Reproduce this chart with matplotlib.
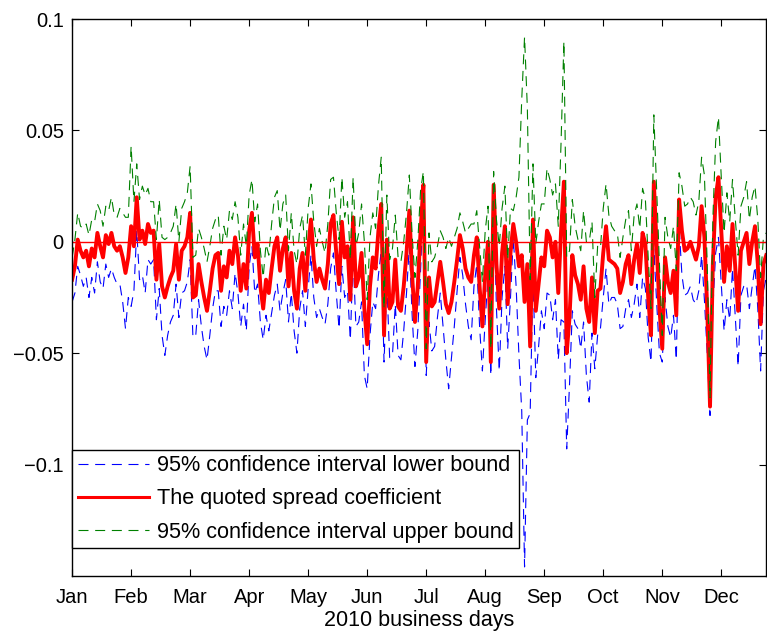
import numpy as np
import matplotlib
matplotlib.use('Agg')
import matplotlib.pyplot as plt

plt.rcParams['font.family'] = ['Liberation Sans', 'DejaVu Sans']

# ------------------------------
# 1. Data (one value per business day)
# ------------------------------
months = ['Jan', 'Feb', 'Mar', 'Apr', 'May', 'Jun',
          'Jul', 'Aug', 'Sep', 'Oct', 'Nov', 'Dec']
month_start_day = [1, 22, 43, 64, 85, 106, 127, 148, 169, 190, 211, 232]

# quoted spread coefficient
coef = [
    # Jan
    -0.017, -0.011, 0.001, -0.004, -0.007, -0.004, -0.011, -0.003, -0.007, 0.004,
    -0.002, -0.007, 0.003, -0.001, 0.004, -0.002, -0.004, -0.002, -0.007, -0.014, -0.007,
    # Feb
    0.007, -0.002, 0.020, 0.001, 0.005, -0.001, 0.008, 0.004, 0.005, -0.017,
    -0.001, -0.020, -0.025, -0.020, -0.016, -0.013, -0.001, -0.017, -0.004, -0.002, 0.002,
    # Mar
    0.013, -0.025, -0.024, -0.010, -0.018, -0.025, -0.031, -0.022, -0.012, -0.006,
    -0.005, -0.022, -0.011, -0.016, -0.004, -0.010, 0.002, -0.006, -0.022, -0.010, -0.021,
    # Apr
    0.005, 0.013, -0.007, -0.001, -0.020, -0.030, -0.017, -0.023, -0.012, -0.002,
    0.002, -0.013, -0.003, 0.002, -0.020, -0.005, -0.022, -0.030, -0.012, -0.005, -0.022,
    # May
    -0.003, 0.010, -0.008, -0.018, -0.012, -0.017, -0.021, -0.010, 0.008, 0.012,
    -0.005, -0.019, 0.009, -0.007, -0.002, -0.026, 0.011, -0.020, -0.016, -0.005, -0.030,
    # Jun
    -0.046, -0.020, -0.007, -0.012, 0.005, 0.017, -0.042, 0.001, -0.030, -0.027,
    -0.008, -0.029, -0.031, -0.020, -0.005, 0.014, -0.015, -0.036, -0.020, 0.005, 0.0256,
    # Jul
    -0.054, -0.016, -0.029, -0.027, -0.018, -0.009, -0.018, -0.028, -0.032, -0.027,
    -0.018, -0.008, 0.003, -0.003, -0.012, -0.016, -0.018, -0.006, 0.002, -0.020, -0.038,
    # Aug
    -0.015, 0.000, -0.054, 0.0256, -0.010, -0.030, -0.005, 0.007, -0.028, -0.005,
    0.008, 0.000, -0.011, -0.006, -0.027, -0.010, -0.047, 0.010, -0.031, -0.019, -0.007,
    # Sep
    -0.011, 0.005, 0.002, -0.007, 0.000, -0.023, 0.005, 0.027, -0.050, -0.034,
    -0.006, -0.015, -0.019, -0.026, -0.011, -0.030, -0.036, -0.016, -0.041, -0.022, -0.021,
    # Oct
    -0.005, 0.007, -0.008, -0.009, -0.010, -0.012, -0.023, -0.018, -0.010, -0.006,
    -0.019, -0.008, -0.001, -0.014, 0.004, -0.001, -0.025, -0.042, 0.027, -0.002, -0.030,
    # Nov
    -0.048, -0.007, -0.018, -0.023, -0.013, -0.033, 0.019, 0.005, -0.004, -0.003,
    0.000, -0.004, -0.008, -0.002, 0.016, 0.002, -0.030, -0.074, -0.010, 0.020, 0.029,
    # Dec
    0.005, -0.018, -0.002, -0.013, 0.008, -0.012, -0.031, -0.004, 0.000, 0.004,
    -0.010, 0.000, 0.007, -0.010, -0.037, -0.010, -0.006,
]

# half width of the 95% confidence interval
half_width = [
    # Jan
    0.010, 0.012, 0.012, 0.011, 0.013, 0.012, 0.014, 0.013, 0.016, 0.013,
    0.016, 0.014, 0.013, 0.015, 0.016, 0.014, 0.015, 0.017, 0.020, 0.025, 0.018,
    # Feb
    0.036, 0.020, 0.015, 0.018, 0.020, 0.022, 0.016, 0.014, 0.013, 0.018,
    0.020, 0.022, 0.026, 0.022, 0.020, 0.020, 0.018, 0.017, 0.019, 0.020, 0.020,
    # Mar
    0.021, 0.018, 0.018, 0.016, 0.020, 0.022, 0.022, 0.020, 0.018, 0.016,
    0.017, 0.016, 0.018, 0.017, 0.018, 0.020, 0.016, 0.017, 0.016, 0.018, 0.019,
    # Apr
    0.016, 0.015, 0.016, 0.018, 0.016, 0.014, 0.016, 0.017, 0.020, 0.022,
    0.021, 0.018, 0.020, 0.019, 0.016, 0.018, 0.018, 0.020, 0.018, 0.017, 0.016,
    # May
    0.018, 0.016, 0.017, 0.016, 0.018, 0.017, 0.016, 0.018, 0.020, 0.017,
    0.018, 0.020, 0.020, 0.018, 0.020, 0.018, 0.018, 0.018, 0.020, 0.022, 0.030,
    # Jun
    0.020, 0.022, 0.020, 0.018, 0.020, 0.021, 0.012, 0.020, 0.022, 0.024,
    0.020, 0.022, 0.022, 0.020, 0.018, 0.016, 0.018, 0.020, 0.020, 0.018, 0.006,
    # Jul
    0.006, 0.020, 0.020, 0.020, 0.016, 0.014, 0.020, 0.025, 0.034, 0.025,
    0.020, 0.014, 0.010, 0.012, 0.016, 0.022, 0.026, 0.014, 0.012, 0.018, 0.020,
    # Aug
    0.020, 0.016, 0.006, 0.006, 0.020, 0.028, 0.020, 0.018, 0.020, 0.020,
    0.006, 0.020, 0.040, 0.070, 0.119, 0.070, 0.030, 0.025, 0.030, 0.028, 0.024,
    # Sep
    0.028, 0.028, 0.026, 0.028, 0.026, 0.030, 0.040, 0.063, 0.043, 0.030,
    0.025, 0.022, 0.020, 0.022, 0.025, 0.030, 0.036, 0.025, 0.016, 0.020, 0.018,
    # Oct
    0.020, 0.019, 0.020, 0.016, 0.015, 0.016, 0.016, 0.020, 0.020, 0.020,
    0.015, 0.020, 0.018, 0.020, 0.020, 0.020, 0.018, 0.012, 0.030, 0.025, 0.020,
    # Nov
    0.006, 0.018, 0.020, 0.020, 0.020, 0.020, 0.012, 0.020, 0.020, 0.020,
    0.020, 0.022, 0.020, 0.020, 0.022, 0.028, 0.020, 0.004, 0.020, 0.025, 0.027,
    # Dec
    0.024, 0.022, 0.024, 0.022, 0.020, 0.022, 0.025, 0.020, 0.020, 0.023,
    0.020, 0.020, 0.018, 0.020, 0.021, 0.012, 0.010,
]

coef = np.array(coef)
half_width = np.array(half_width)
days = np.arange(1, len(coef) + 1)
lower = coef - half_width
upper = coef + half_width

# ------------------------------
# 2. Plot
# ------------------------------
fig = plt.figure(figsize=(7.67, 6.37), dpi=100)
ax = fig.add_axes([0.094, 0.096, 0.905, 0.874])

dash = (0, (9, 6))
ax.plot(days, lower, color='blue', lw=0.8, linestyle=dash,
        label='95% confidence interval lower bound')
ax.plot(days, coef, color='red', lw=2.8,
        label='The quoted spread coefficient')
ax.plot(days, upper, color='green', lw=0.8, linestyle=dash,
        label='95% confidence interval upper bound')
ax.axhline(0, color='red', lw=1.0)

ax.set_xlim(1, len(coef))
ax.set_ylim(-0.15, 0.1)
ax.set_xticks(month_start_day)
ax.set_xticklabels(months)
ax.set_yticks([-0.1, -0.05, 0, 0.05, 0.1])
ax.set_yticklabels(['\u22120.1', '\u22120.05', '0', '0.05', '0.1'])
ax.tick_params(direction='in', top=True, right=True, labelsize=14.5,
               length=5, width=0.8, pad=6)
ax.tick_params(axis='x', pad=9)
for s in ax.spines.values():
    s.set_linewidth(1.0)
ax.set_xlabel('2010 business days', fontsize=15.5, labelpad=2)

leg = ax.legend(loc='lower left', bbox_to_anchor=(0.0, 0.05),
                borderaxespad=0, fontsize=15.6, fancybox=False,
                handlelength=3.3, handletextpad=0.35, framealpha=1,
                borderpad=0.25, labelspacing=0.56)
leg.get_frame().set_edgecolor('black')
leg.get_frame().set_linewidth(1.0)
leg.get_lines()[1].set_linewidth(2.2)

fig.savefig('out.png', dpi=100)
